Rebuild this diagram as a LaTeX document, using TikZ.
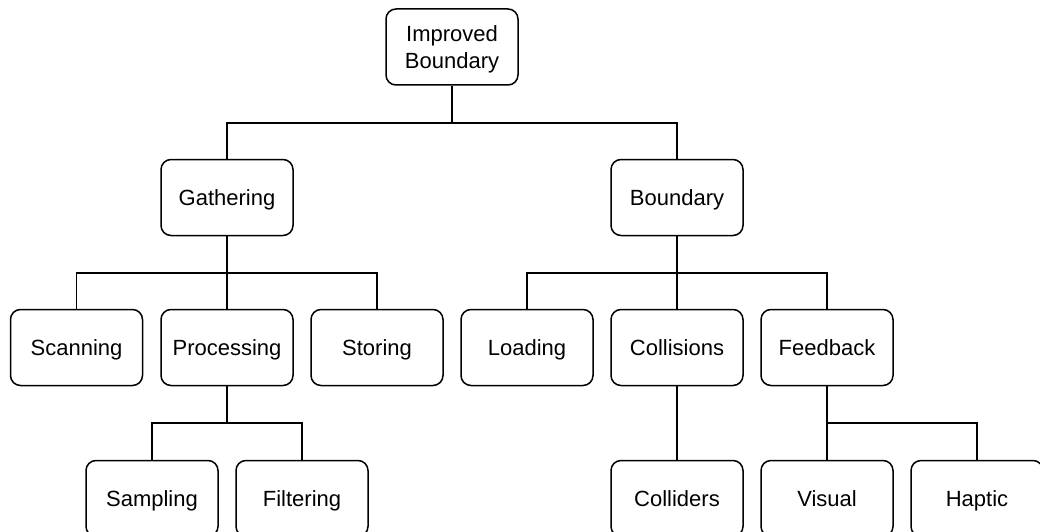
\documentclass[tikz,border=0pt]{standalone}
\usepackage{fontspec}
\setmainfont{Liberation Sans}
\newcommand\boxstrut{\rule[-5.2pt]{0pt}{26.2pt}}
\begin{document}
\begin{tikzpicture}[x=1pt,y=-1pt,
  box/.style={draw, line width=1.5pt, rounded corners=10pt, minimum width=132pt, minimum height=76pt, align=center, inner sep=0pt, font=\fontsize{22}{27}\selectfont},
  conn/.style={draw, line width=1.5pt}]
\useasboundingbox (0,0) rectangle (1040,532);
\clip (0,0) rectangle (1040,532);
\node[box] (ib) at (452,47) {\boxstrut Improved\\\boxstrut Boundary};
\node[box] (ga) at (227,197.5) {\boxstrut Gathering};
\node[box] (bo) at (677,197.5) {\boxstrut Boundary};
\node[box] (sc) at (76.5,347.5) {\boxstrut Scanning};
\node[box] (pr) at (227,347.5) {\boxstrut Processing};
\node[box] (st) at (377,347.5) {\boxstrut Storing};
\node[box] (lo) at (527,347.5) {\boxstrut Loading};
\node[box] (co) at (677,347.5) {\boxstrut Collisions};
\node[box] (fe) at (827,347.5) {\boxstrut Feedback};
\node[box] (sa) at (152,498.5) {\boxstrut Sampling};
\node[box] (fi) at (302,498.5) {\boxstrut Filtering};
\node[box] (cl) at (677,498.5) {\boxstrut Colliders};
\node[box] (vi) at (827,498.5) {\boxstrut Visual};
\node[box] (ha) at (977,498.5) {\boxstrut Haptic};
\foreach \c in {ga,bo} \draw[conn] (ib.south) -- (ib.south |- 0,123) -| (\c.north);
\foreach \c in {sc,pr,st} \draw[conn] (ga.south) -- (ga.south |- 0,273) -| (\c.north);
\foreach \c in {lo,co,fe} \draw[conn] (bo.south) -- (bo.south |- 0,273) -| (\c.north);
\foreach \c in {sa,fi} \draw[conn] (pr.south) -- (pr.south |- 0,423) -| (\c.north);
\draw[conn] (co.south) -- (cl.north);
\foreach \c in {vi,ha} \draw[conn] (fe.south) -- (fe.south |- 0,423) -| (\c.north);
\end{tikzpicture}
\end{document}
